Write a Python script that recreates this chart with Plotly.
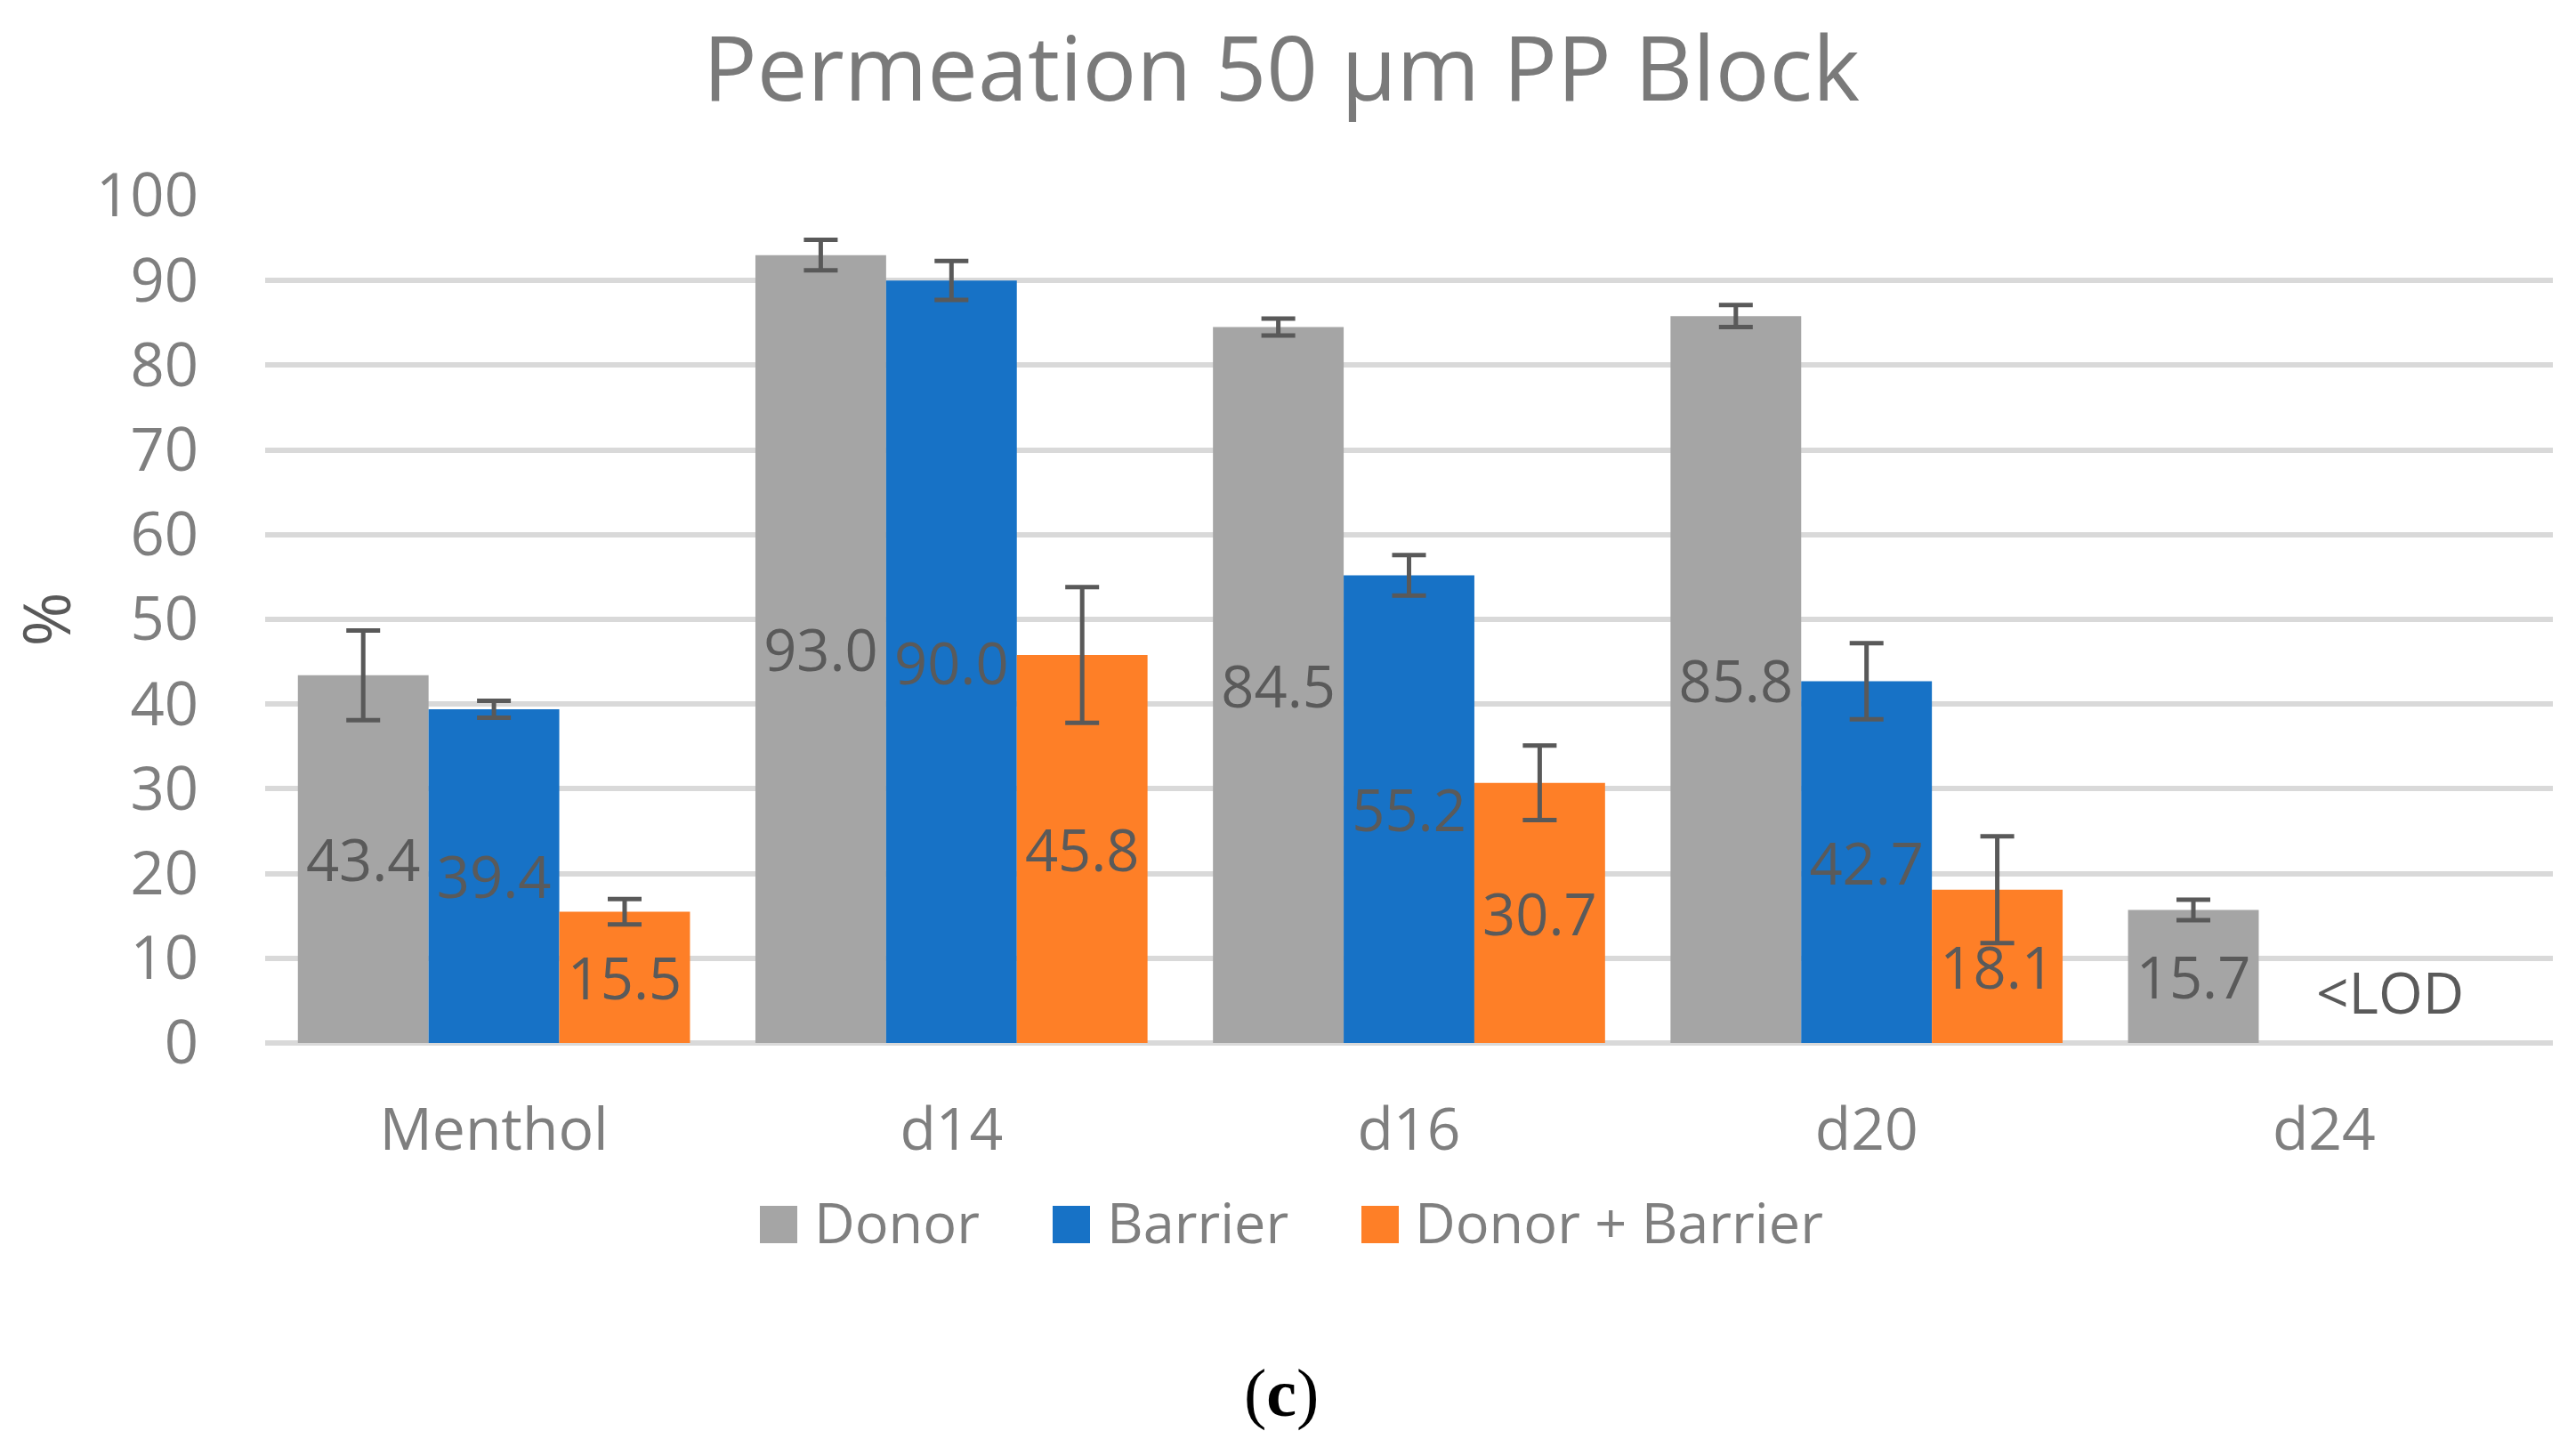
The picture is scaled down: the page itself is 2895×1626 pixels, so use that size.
import plotly.graph_objects as go

categories = ["Menthol", "d14", "d16", "d20", "d24"]
donor = [43.4, 93.0, 84.5, 85.8, 15.7]
barrier = [39.4, 90.0, 55.2, 42.7, None]
donor_barrier = [15.5, 45.8, 30.7, 18.1, None]
donor_err = [5.3, 1.8, 1.0, 1.3, 1.2]
barrier_err = [1.0, 2.3, 2.4, 4.5, None]
donor_barrier_err = [1.5, 8.0, 4.4, 6.3, None]
series_names = ["Donor", "Barrier", "Donor + Barrier"]
y_ticks = list(range(0, 101, 10))

colors = ["#A5A5A5", "#1772C6", "#FE7F27"]
FONT = "Open Sans"
W, H = 2895, 1626
L, R, T, B = 298, 26, 220, 454
PW, PH = W - L - R, H - T - B


def px_x(px):
    return (px - L) / PW


def px_y(py):
    return (H - B - py) / PH


fig = go.Figure()
for name, vals, errs, col in zip(series_names, [donor, barrier, donor_barrier],
                                 [donor_err, barrier_err, donor_barrier_err], colors):
    fig.add_trace(go.Bar(
        name=name, x=categories, y=vals, showlegend=False,
        marker=dict(color=col, line=dict(width=0)),
        error_y=dict(type="data", array=errs, symmetric=True, color="#595959",
                     thickness=5, width=19, visible=True),
        texttemplate="%{y:.1f}", textposition="inside", insidetextanchor="middle",
        textangle=0, constraintext="none",
        textfont=dict(family=FONT, size=65, color="#5A5A5A"),
        cliponaxis=False,
    ))

# "<LOD" note for the missing d24 values
fig.add_annotation(x="d24", y=6.0, xref="x", yref="y", text="&lt;LOD", showarrow=False,
                   xshift=74, font=dict(family=FONT, size=64, color="#5A5A5A"))

# legend (large square swatches like the original)
legend_sq_left = [854, 1183, 1530]
legend_txt_left = [913, 1242, 1588]
for name, col, sx, tx in zip(series_names, colors, legend_sq_left, legend_txt_left):
    fig.add_shape(type="rect", xref="paper", yref="paper",
                  x0=px_x(sx), x1=px_x(sx + 42), y0=px_y(1397), y1=px_y(1355),
                  fillcolor=col, line=dict(width=0))
    fig.add_annotation(x=px_x(tx), y=px_y(1372), xref="paper", yref="paper",
                       xanchor="left", yanchor="middle", text=name, showarrow=False,
                       font=dict(family=FONT, size=63, color="#7F7F7F"))

fig.add_annotation(x=px_x(1440), y=px_y(1610), xref="paper", yref="paper",
                   text="(<b>c</b>)", showarrow=False,
                   font=dict(family="Liberation Serif", size=76, color="#000000"))

fig.update_layout(
    width=W, height=H,
    margin=dict(l=L, r=R, t=T, b=B, autoexpand=False),
    paper_bgcolor="white", plot_bgcolor="white",
    barmode="group", bargap=0.143, bargroupgap=0,
    showlegend=False,
    title=dict(text="Permeation 50 µm PP Block", x=1440 / W, xanchor="center",
               y=1 - 78 / H, yanchor="middle", xref="container", yref="container",
               font=dict(family=FONT, size=101, color="#7A7A7A")),
    xaxis=dict(showgrid=False, showline=False, zeroline=False, ticks="",
               tickfont=dict(family=FONT, size=66, color="#7F7F7F"),
               ticklabelstandoff=53, automargin=False),
    yaxis=dict(range=[0, 100], tickvals=y_ticks, showgrid=True, gridcolor="#D9D9D9",
               gridwidth=6, zeroline=True, zerolinecolor="#D9D9D9", zerolinewidth=6,
               showline=False, ticks="", ticklabelstandoff=74,
               tickfont=dict(family=FONT, size=67, color="#7F7F7F"),
               title=dict(text="%", standoff=10,
                          font=dict(family=FONT, size=74, color="#595959")),
               automargin=False),
)

fig.write_html("out.html", config={"displayModeBar": False},
               post_script="document.body.style.margin='0px';document.body.style.padding='0px';")
